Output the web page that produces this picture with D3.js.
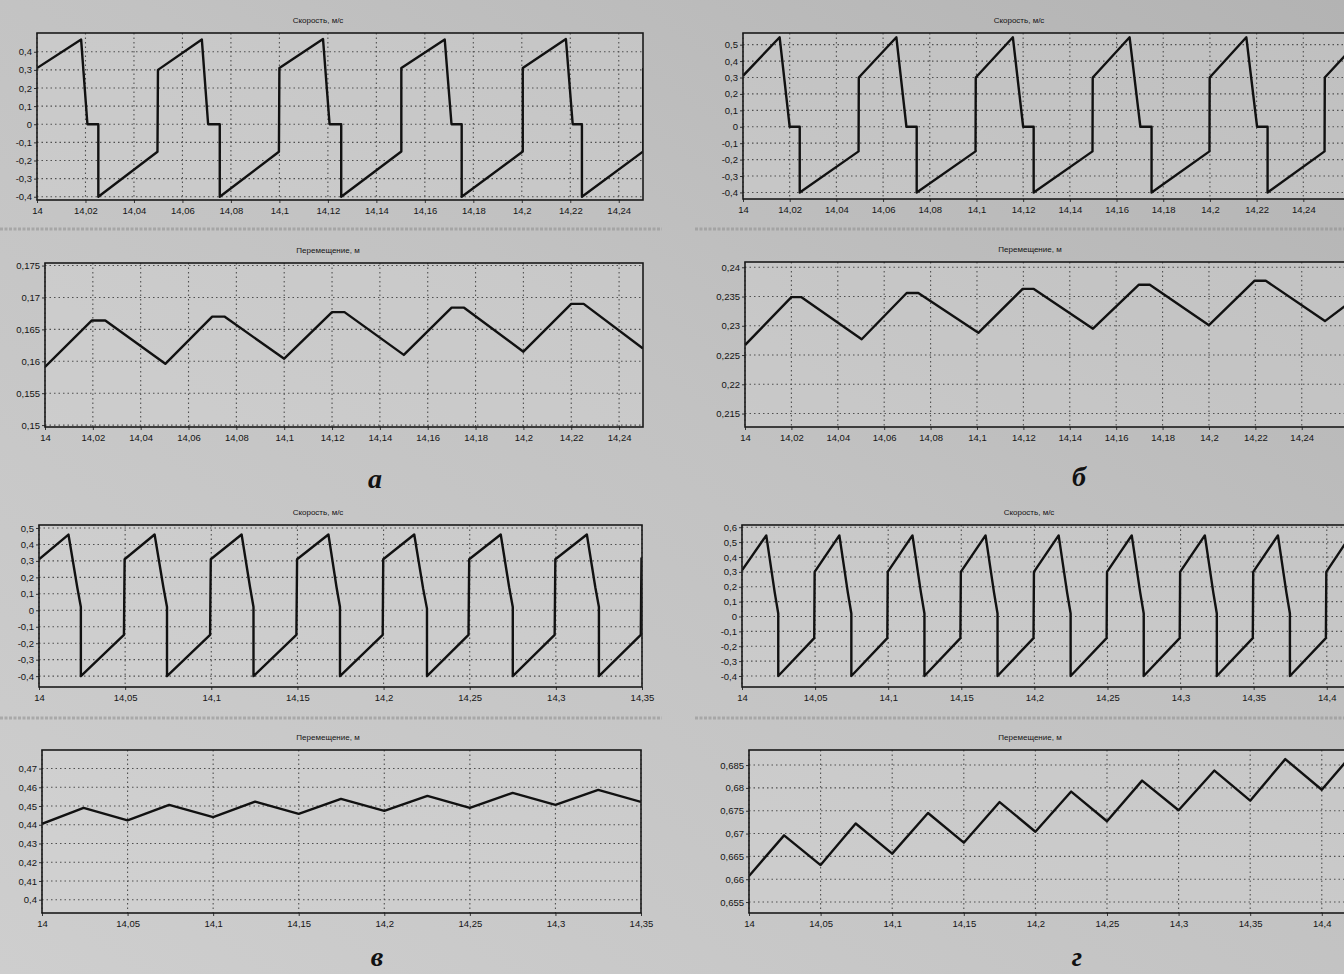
<!DOCTYPE html>
<html>
<head>
<meta charset="utf-8">
<script src="https://cdn.jsdelivr.net/npm/d3@7"></script>
<style>
  html, body { margin: 0; padding: 0; background: #c4c4c4; }
  svg { display: block; }
  .tick-label { font-family: "Liberation Sans", Arial, sans-serif; font-size: 9.5px; fill: #141414; }
  .title { font-family: "Liberation Sans", Arial, sans-serif; font-size: 8px; fill: #141414; }
  .letter { font-family: "Liberation Serif", "DejaVu Serif", serif; font-size: 28px; font-weight: bold; font-style: italic; fill: #111; }
</style>
</head>
<body>
<div id="chart"></div>
<script>
// tick values
var timeTicksAB = [14, 14.02, 14.04, 14.06, 14.08, 14.1, 14.12, 14.14, 14.16, 14.18, 14.2, 14.22, 14.24];
var timeTicksV = [14, 14.05, 14.1, 14.15, 14.2, 14.25, 14.3, 14.35];
var timeTicksG = [14, 14.05, 14.1, 14.15, 14.2, 14.25, 14.3, 14.35, 14.4];
var velTicksA = [-0.4, -0.3, -0.2, -0.1, 0, 0.1, 0.2, 0.3, 0.4];
var velTicksB = [-0.4, -0.3, -0.2, -0.1, 0, 0.1, 0.2, 0.3, 0.4, 0.5];
var velTicksV = [-0.4, -0.3, -0.2, -0.1, 0, 0.1, 0.2, 0.3, 0.4, 0.5];
var velTicksG = [-0.4, -0.3, -0.2, -0.1, 0, 0.1, 0.2, 0.3, 0.4, 0.5, 0.6];
var dispTicksA = [0.15, 0.155, 0.16, 0.165, 0.17, 0.175];
var dispTicksB = [0.215, 0.22, 0.225, 0.23, 0.235, 0.24];
var dispTicksV = [0.4, 0.41, 0.42, 0.43, 0.44, 0.45, 0.46, 0.47];
var dispTicksG = [0.655, 0.66, 0.665, 0.67, 0.675, 0.68, 0.685];

// velocity, m/s  [time, value]
var velA = [
  [14.0000, 0.31], [14.0182, 0.467], [14.0208, 0], [14.0253, 0], [14.0253, -0.40], [14.0497, -0.152],
  [14.0499, 0.30], [14.0680, 0.468], [14.0706, 0], [14.0754, 0], [14.0754, -0.40], [14.0998, -0.152],
  [14.1000, 0.31], [14.1180, 0.470], [14.1207, 0], [14.1255, 0], [14.1255, -0.40], [14.1503, -0.150],
  [14.1503, 0.31], [14.1682, 0.468], [14.1710, 0], [14.1752, 0], [14.1752, -0.40], [14.2004, -0.150],
  [14.2004, 0.31], [14.2182, 0.470], [14.2210, 0], [14.2248, 0], [14.2248, -0.40], [14.2501, -0.15],
  [14.2501, 0.31]
];
var velB = [
  [14.0000, 0.31], [14.0157, 0.545], [14.0200, 0], [14.0243, 0], [14.0243, -0.40], [14.0495, -0.15],
  [14.0496, 0.30], [14.0657, 0.545], [14.0700, 0], [14.0744, 0], [14.0744, -0.40], [14.0996, -0.15],
  [14.0997, 0.30], [14.1156, 0.545], [14.1200, 0], [14.1245, 0], [14.1245, -0.40], [14.1497, -0.15],
  [14.1498, 0.30], [14.1656, 0.545], [14.1702, 0], [14.1750, 0], [14.1750, -0.40], [14.1998, -0.15],
  [14.1999, 0.30], [14.2156, 0.545], [14.2202, 0], [14.2247, 0], [14.2247, -0.40], [14.2491, -0.15],
  [14.2492, 0.30], [14.2600, 0.465]
];
var velV = [
  [14.0000, 0.31], [14.0171, 0.46], [14.0222, 0.14], [14.0243, 0.02], [14.0243, -0.40], [14.0493, -0.15],
  [14.0497, 0.31], [14.0671, 0.46], [14.0722, 0.14], [14.0743, 0.02], [14.0743, -0.40], [14.0993, -0.15],
  [14.0997, 0.31], [14.1176, 0.46], [14.1225, 0.14], [14.1245, 0.02], [14.1245, -0.40], [14.1494, -0.15],
  [14.1498, 0.31], [14.1680, 0.46], [14.1727, 0.14], [14.1747, 0.02], [14.1747, -0.40], [14.1995, -0.15],
  [14.1998, 0.31], [14.2178, 0.46], [14.2230, 0.13], [14.2252, 0.01], [14.2252, -0.40], [14.2493, -0.15],
  [14.2497, 0.31], [14.2680, 0.46], [14.2729, 0.14], [14.2750, 0.02], [14.2750, -0.40], [14.2993, -0.15],
  [14.2997, 0.31], [14.3180, 0.46], [14.3229, 0.14], [14.3250, 0.02], [14.3250, -0.40], [14.3493, -0.15],
  [14.3497, 0.32]
];
var velG = [
  [14.0000, 0.31], [14.0166, 0.545], [14.0224, 0.16], [14.0248, 0.02], [14.0248, -0.40], [14.0494, -0.145],
  [14.0497, 0.30], [14.0666, 0.545], [14.0724, 0.16], [14.0748, 0.02], [14.0748, -0.40], [14.0994, -0.145],
  [14.0997, 0.30], [14.1166, 0.545], [14.1224, 0.16], [14.1248, 0.02], [14.1248, -0.40], [14.1494, -0.145],
  [14.1497, 0.30], [14.1666, 0.545], [14.1724, 0.16], [14.1748, 0.02], [14.1748, -0.40], [14.1994, -0.145],
  [14.1997, 0.30], [14.2166, 0.545], [14.2224, 0.16], [14.2248, 0.02], [14.2248, -0.40], [14.2494, -0.145],
  [14.2497, 0.30], [14.2666, 0.545], [14.2724, 0.16], [14.2748, 0.02], [14.2748, -0.40], [14.2994, -0.145],
  [14.2997, 0.30], [14.3166, 0.545], [14.3224, 0.16], [14.3248, 0.02], [14.3248, -0.40], [14.3494, -0.145],
  [14.3497, 0.30], [14.3666, 0.545], [14.3724, 0.16], [14.3748, 0.02], [14.3748, -0.40], [14.3994, -0.145],
  [14.3997, 0.30], [14.4160, 0.54]
];

// displacement, m  [time, value]
var dispA = [
  [14.0000, 0.1591], [14.0196, 0.1664], [14.0252, 0.1664], [14.0503, 0.1596],
  [14.0699, 0.1670], [14.0750, 0.1670], [14.1000, 0.1604],
  [14.1200, 0.1677], [14.1252, 0.1677], [14.1500, 0.1610],
  [14.1700, 0.1684], [14.1752, 0.1684], [14.2000, 0.1615],
  [14.2200, 0.1690], [14.2252, 0.1690], [14.2500, 0.1620]
];
var dispB = [
  [14.0000, 0.2267], [14.0200, 0.2349], [14.0242, 0.2349], [14.0503, 0.2277],
  [14.0697, 0.2356], [14.0747, 0.2356], [14.1006, 0.2288],
  [14.1197, 0.2363], [14.1245, 0.2363], [14.1500, 0.2295],
  [14.1697, 0.2370], [14.1745, 0.2370], [14.2000, 0.2301],
  [14.2197, 0.2377], [14.2245, 0.2377], [14.2500, 0.2308],
  [14.2608, 0.2340]
];
var dispV = [
  [14.0000, 0.4405], [14.0243, 0.4490], [14.0500, 0.4423], [14.0743, 0.4506],
  [14.1000, 0.4441], [14.1245, 0.4523], [14.1500, 0.4458], [14.1747, 0.4538],
  [14.2000, 0.4474], [14.2252, 0.4554], [14.2500, 0.4490], [14.2750, 0.4570],
  [14.3000, 0.4506], [14.3250, 0.4586], [14.3500, 0.4522]
];
var dispG = [
  [14.0000, 0.6607], [14.0245, 0.6696], [14.0500, 0.6631], [14.0745, 0.6722],
  [14.1000, 0.6656], [14.1250, 0.6745], [14.1500, 0.6680], [14.1750, 0.6769],
  [14.2000, 0.6704], [14.2250, 0.6792], [14.2500, 0.6727], [14.2745, 0.6816],
  [14.3000, 0.6751], [14.3250, 0.6838], [14.3500, 0.6772], [14.3745, 0.6863],
  [14.4000, 0.6796], [14.4197, 0.6868]
];

var velTitle = "Скорость, м/с";
var dispTitle = "Перемещение, м";

var W = 1344, H = 974;

var svg = d3.select("#chart").append("svg")
  .attr("width", W)
  .attr("height", H);

var defs = svg.append("defs");
var grad = defs.append("linearGradient")
  .attr("id", "paper")
  .attr("x1", 1).attr("y1", 0).attr("x2", 0).attr("y2", 1);
grad.append("stop").attr("offset", "0%").attr("stop-color", "#b3b3b3");
grad.append("stop").attr("offset", "45%").attr("stop-color", "#c2c2c2");
grad.append("stop").attr("offset", "100%").attr("stop-color", "#cecece");

svg.append("rect")
  .attr("width", W)
  .attr("height", H)
  .attr("fill", "url(#paper)");

// scan remnants between the rows
[229, 718].forEach(function(yy) {
  svg.append("line")
    .attr("x1", 0).attr("x2", 662)
    .attr("y1", yy).attr("y2", yy)
    .attr("stroke", "#8f8f8f")
    .attr("stroke-width", 3)
    .attr("stroke-dasharray", "3,1.5")
    .attr("opacity", 0.55);
  svg.append("line")
    .attr("x1", 695).attr("x2", W)
    .attr("y1", yy).attr("y2", yy)
    .attr("stroke", "#8f8f8f")
    .attr("stroke-width", 3)
    .attr("stroke-dasharray", "3,1.5")
    .attr("opacity", 0.55);
});

var panels = [
  {id: "aV", x: [37, 643], y: [200, 33], t: [14, 14.25], v: [-0.418, 0.5035], xt: timeTicksAB, yt: velTicksA, data: velA, title: velTitle, tx: 318},
  {id: "aD", x: [45, 643], y: [427, 263], t: [14, 14.25], v: [0.1497, 0.1754], xt: timeTicksAB, yt: dispTicksA, data: dispA, title: dispTitle, tx: 328},
  {id: "bV", x: [743, 1350], y: [199, 33], t: [14, 14.26], v: [-0.44, 0.571], xt: timeTicksAB, yt: velTicksB, data: velB, title: velTitle, tx: 1019},
  {id: "bD", x: [745, 1350], y: [427, 262], t: [14, 14.2608], v: [0.2127, 0.2409], xt: timeTicksAB, yt: dispTicksB, data: dispB, title: dispTitle, tx: 1030},
  {id: "vV", x: [39, 642], y: [687, 525], t: [14, 14.35], v: [-0.466, 0.518], xt: timeTicksV, yt: velTicksV, data: velV, title: velTitle, tx: 318},
  {id: "vD", x: [42, 641], y: [913, 750], t: [14, 14.35], v: [0.3929, 0.4799], xt: timeTicksV, yt: dispTicksV, data: dispV, title: dispTitle, tx: 328},
  {id: "gV", x: [742, 1350], y: [687, 525], t: [14, 14.4159], v: [-0.474, 0.615], xt: timeTicksG, yt: velTicksG, data: velG, title: velTitle, tx: 1029},
  {id: "gD", x: [749, 1350], y: [913, 750], t: [14, 14.4197], v: [0.6526, 0.6883], xt: timeTicksG, yt: dispTicksG, data: dispG, title: dispTitle, tx: 1030}
];

function fmt(d) {
  return String(d).replace(".", ",");
}

panels.forEach(drawPanel);

function drawPanel(p)
{
  var xs = d3.scaleLinear().domain(p.t).range(p.x);
  var ys = d3.scaleLinear().domain(p.v).range(p.y);
  var left = p.x[0], right = p.x[1], top = p.y[1], bottom = p.y[0];
  var g = svg.append("g").attr("class", "panel-" + p.id);

  defs.append("clipPath")
    .attr("id", "clip-" + p.id)
    .append("rect")
    .attr("x", left).attr("y", top)
    .attr("width", right - left).attr("height", bottom - top);

  g.append("rect")
    .attr("x", left).attr("y", top)
    .attr("width", right - left).attr("height", bottom - top)
    .attr("fill", "#d6d6d6")
    .attr("opacity", 0.35);

  // grid
  g.append("g")
    .selectAll("line")
    .data(p.xt)
    .enter().append("line")
    .attr("x1", function(d) { return xs(d); })
    .attr("x2", function(d) { return xs(d); })
    .attr("y1", top).attr("y2", bottom)
    .attr("stroke", "#505050")
    .attr("stroke-width", 1.1)
    .attr("stroke-dasharray", "1.5,3");

  g.append("g")
    .selectAll("line")
    .data(p.yt)
    .enter().append("line")
    .attr("x1", left).attr("x2", right)
    .attr("y1", function(d) { return ys(d); })
    .attr("y2", function(d) { return ys(d); })
    .attr("stroke", "#505050")
    .attr("stroke-width", 1.1)
    .attr("stroke-dasharray", "1.5,3");

  // axes
  var yAxis = d3.axisLeft(ys).tickValues(p.yt).tickFormat(fmt).tickSize(3).tickPadding(2);
  var ya = g.append("g").attr("transform", "translate(" + left + ",0)").call(yAxis);
  ya.select(".domain").remove();
  ya.selectAll(".tick line").attr("stroke", "#333");
  ya.selectAll(".tick text").attr("class", "tick-label").attr("fill", null);

  var xAxis = d3.axisBottom(xs).tickValues(p.xt).tickFormat(fmt).tickSize(3).tickPadding(4);
  var xa = g.append("g").attr("transform", "translate(0," + bottom + ")").call(xAxis);
  xa.select(".domain").remove();
  xa.selectAll(".tick line").attr("stroke", "#333");
  xa.selectAll(".tick text").attr("class", "tick-label").attr("fill", null);
  ya.attr("font-size", null).attr("font-family", null);
  xa.attr("font-size", null).attr("font-family", null);

  // series
  var line = d3.line()
    .x(function(d) { return xs(d[0]); })
    .y(function(d) { return ys(d[1]); });

  g.append("path")
    .datum(p.data)
    .attr("clip-path", "url(#clip-" + p.id + ")")
    .attr("d", line)
    .attr("fill", "none")
    .attr("stroke", "#111")
    .attr("stroke-width", 2.4)
    .attr("stroke-linejoin", "round");

  // frame
  g.append("rect")
    .attr("x", left).attr("y", top)
    .attr("width", right - left).attr("height", bottom - top)
    .attr("fill", "none")
    .attr("stroke", "#1b1b1b")
    .attr("stroke-width", 1.6);

  g.append("text")
    .attr("class", "title")
    .attr("x", p.tx)
    .attr("y", top - 10)
    .attr("text-anchor", "middle")
    .text(p.title);
}

// panel letters
var letters = [
  {t: "а", x: 375, y: 488},
  {t: "б", x: 1079, y: 486},
  {t: "в", x: 377, y: 966},
  {t: "г", x: 1077, y: 966}
];
svg.selectAll("text.letter")
  .data(letters)
  .enter().append("text")
  .attr("class", "letter")
  .attr("x", function(d) { return d.x; })
  .attr("y", function(d) { return d.y; })
  .attr("text-anchor", "middle")
  .text(function(d) { return d.t; });
</script>
</body>
</html>
